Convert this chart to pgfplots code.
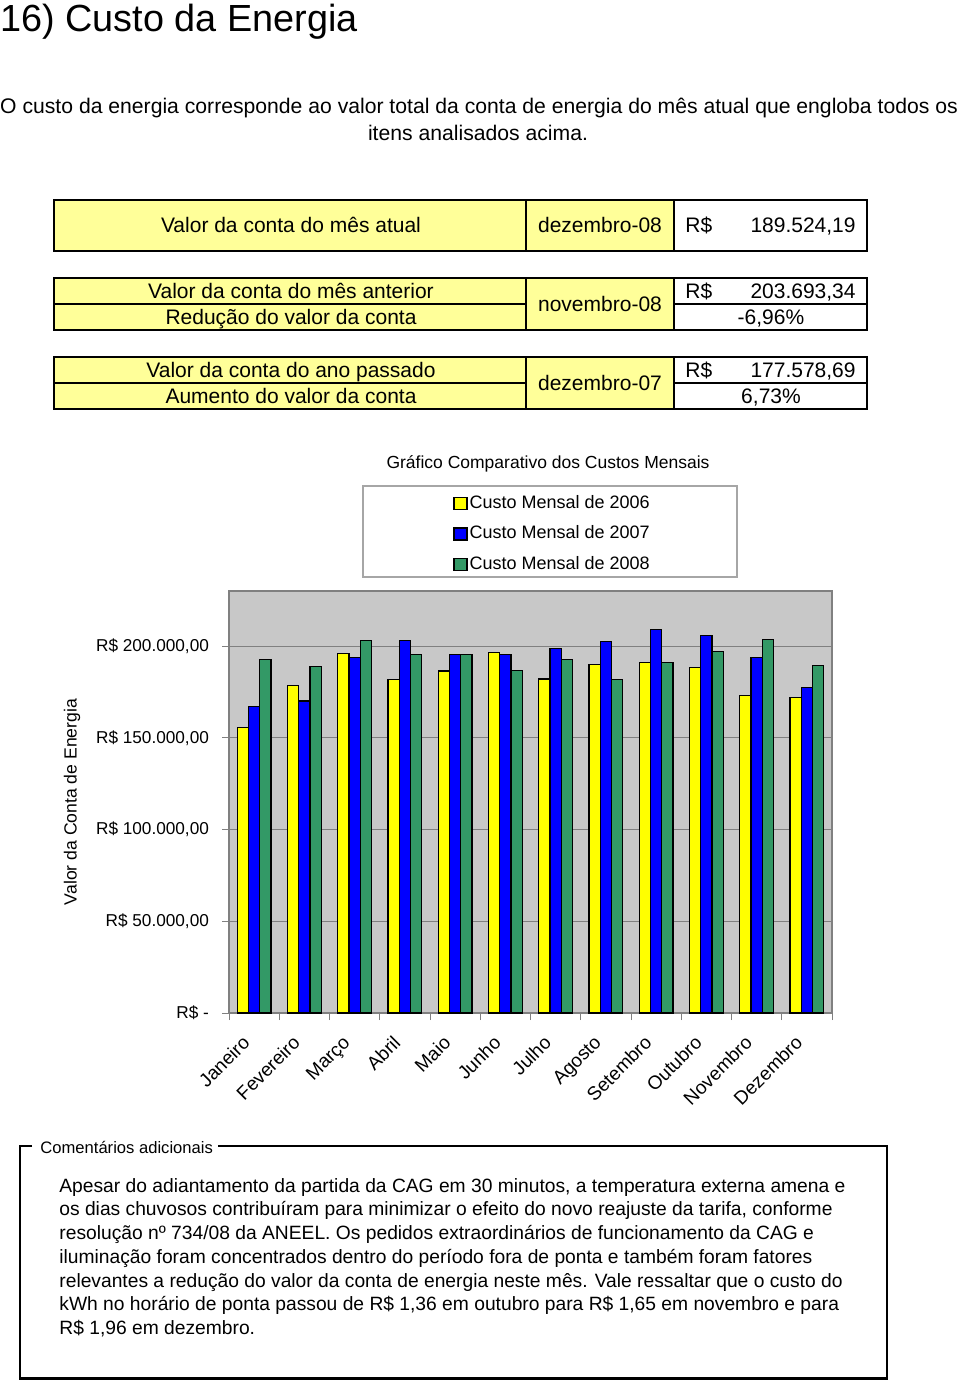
\documentclass[border=0pt]{standalone}
\usepackage{fontspec}
\setmainfont{Liberation Sans}
\usepackage{pgfplots}
\usepackage{pgfplotstable}
\pgfplotsset{compat=1.18}
\definecolor{tyellow}{HTML}{FFFF99}
\definecolor{byellow}{HTML}{FFFF00}
\definecolor{bblue}{HTML}{0000FF}
\definecolor{bgreen}{HTML}{339966}
\definecolor{plotbg}{HTML}{C8C8C8}
\definecolor{axgray}{HTML}{808080}
\newcommand{\fs}[1]{\fontsize{#1}{#1}\selectfont}

\pgfplotstableread{
x y06 y07 y08
1 155700 166900 192700
2 178600 170000 188700
3 196150 193800 202850
4 181800 203200 195250
5 186350 195250 195250
6 196700 195450 186700
7 182000 198500 192700
8 190000 202700 181800
9 190900 209200 191250
10 188500 205950 196850
11 173100 193600 203693.34
12 171800 177578.69 189524.19
}\datatable

\begin{document}
\begin{tikzpicture}
\begin{axis}[
  at={(114.5pt,-506.5pt)}, anchor=south west,
  scale only axis, width=301.5pt, height=211pt,
  xmin=0.5, xmax=12.5, ymin=0, ymax=230000,
  enlargelimits=false,
  scaled y ticks=false,
  ybar=0pt, bar width=5.65pt,
  axis background/.style={fill=plotbg},
  axis line style={draw=axgray, line width=0.8pt},
  ytick={0,50000,100000,150000,200000},
  yticklabels={{R\$ -\hspace{9pt}},{R\$ 50.000,00},{R\$ 100.000,00},{R\$ 150.000,00},{R\$ 200.000,00}},
  yticklabel style={font=\fs{8.6pt}, xshift=-3pt},
  ymajorgrids, grid style={draw=axgray, line width=0.5pt},
  tick align=outside, major tick length=3.5pt,
  tick pos=left,
  ytick style={draw=axgray, line width=0.5pt},
  xtick={1,...,12},
  xticklabels={Janeiro,Fevereiro,Março,Abril,Maio,Junho,Julho,Agosto,Setembro,Outubro,Novembro,Dezembro},
  xtick style={draw=none},
  xticklabel style={font=\fs{9.5pt}, xshift=-6.5pt, yshift=-7pt, rotate=45, anchor=north east, inner sep=0pt},
  extra x ticks={0.5,1.5,...,12.5},
  extra x tick labels={},
  extra x tick style={grid=none, tick pos=left, xtick style={draw=axgray, line width=0.5pt}},
  legend style={draw=none, fill=none, at={(0.3715,1.233)}, anchor=north west,
    font=\fs{9pt}, row sep=4.85pt, inner sep=0pt,
    nodes={inner sep=1pt, text height=6.5pt, text depth=1.9pt}},
  legend cell align=left,
  legend image code/.code={\draw[#1, draw=black, line width=0.6pt] (0pt,-3pt) rectangle (6.5pt,3pt);},
]
\addplot[fill=byellow, draw=black, line width=0.6pt] table[x=x,y=y06]{\datatable};
\addplot[fill=bblue, draw=black, line width=0.6pt] table[x=x,y=y07]{\datatable};
\addplot[fill=bgreen, draw=black, line width=0.6pt] table[x=x,y=y08]{\datatable};
\legend{Custo Mensal de 2006,Custo Mensal de 2007,Custo Mensal de 2008}
\end{axis}

\begin{scope}[x=0.5pt, y=-0.5pt]
% title and intro
\node[anchor=base west, inner sep=0pt, font=\fs{18.9pt}] at (0,32) {16) Custo da Energia};
\node[anchor=base, inner sep=0pt, font=\fs{10.58pt}] at (479,113) {O custo da energia corresponde ao valor total da conta de energia do mês atual que engloba todos os};
\node[anchor=base, inner sep=0pt, font=\fs{10.58pt}] at (478,140) {itens analisados acima.};

% table 1
\fill[tyellow] (54,200) rectangle (674,251);
\fill[white] (674,200) rectangle (867,251);
\draw[line width=0.8pt] (526,200)--(526,251) (674,200)--(674,251);
\draw[line width=1.3pt] (54,200) rectangle (867,251);
\begin{scope}[every node/.style={inner sep=0pt, font=\fs{10.5pt}}]
\node[anchor=base] at (291,232) {Valor da conta do mês atual};
\node[anchor=base] at (600,232) {dezembro-08};
\node[anchor=base west] at (685,232) {R\$};
\node[anchor=base east] at (856,232) {189.524,19};
\end{scope}

% table 2
\fill[tyellow] (54,278) rectangle (674,330);
\fill[white] (674,278) rectangle (867,330);
\draw[line width=0.8pt] (526,278)--(526,330) (674,278)--(674,330) (54,304)--(526,304) (674,304)--(867,304);
\draw[line width=1.3pt] (54,278) rectangle (867,330);
\begin{scope}[every node/.style={inner sep=0pt, font=\fs{10.5pt}}]
\node[anchor=base] at (291,298.5) {Valor da conta do mês anterior};
\node[anchor=base] at (291,324.5) {Redução do valor da conta};
\node[anchor=base] at (600,311.5) {novembro-08};
\node[anchor=base west] at (685,298.5) {R\$};
\node[anchor=base east] at (856,298.5) {203.693,34};
\node[anchor=base] at (771,324.5) {-6,96\%};
\end{scope}

% table 3
\fill[tyellow] (54,357) rectangle (674,409);
\fill[white] (674,357) rectangle (867,409);
\draw[line width=0.8pt] (526,357)--(526,409) (674,357)--(674,409) (54,383)--(526,383) (674,383)--(867,383);
\draw[line width=1.3pt] (54,357) rectangle (867,409);
\begin{scope}[every node/.style={inner sep=0pt, font=\fs{10.5pt}}]
\node[anchor=base] at (291,377.5) {Valor da conta do ano passado};
\node[anchor=base] at (291,403.5) {Aumento do valor da conta};
\node[anchor=base] at (600,390.5) {dezembro-07};
\node[anchor=base west] at (685,377.5) {R\$};
\node[anchor=base east] at (856,377.5) {177.578,69};
\node[anchor=base] at (771,403.5) {6,73\%};
\end{scope}

% chart title, legend box, y label
\node[anchor=base, inner sep=0pt, font=\fs{8.75pt}] at (548,468) {Gráfico Comparativo dos Custos Mensais};
\draw[draw=gray!70, line width=0.6pt] (363,486) rectangle (737,577);
\node[rotate=90, inner sep=0pt, font=\fs{8.8pt}] at (72,802) {Valor da Conta de Energia};

% comments box
\draw[line width=1.1pt] (32,1146) -- (20,1146) -- (20,1378.5) -- (887,1378.5) -- (887,1146) -- (218,1146);
\node[anchor=base west, inner sep=0pt, font=\fs{8.3pt}] at (40,1153) {Comentários adicionais};
\begin{scope}[every node/.style={anchor=base west, inner sep=0pt, font=\fs{9.62pt}}]
\node at (59,1192) {Apesar do adiantamento da partida da CAG em 30 minutos, a temperatura externa amena e};
\node at (59,1215.5) {os dias chuvosos contribuíram para minimizar o efeito do novo reajuste da tarifa, conforme};
\node at (59,1239) {resolução nº 734/08 da ANEEL. Os pedidos extraordinários de funcionamento da CAG e};
\node at (59,1263) {iluminação foram concentrados dentro do período fora de ponta e também foram fatores};
\node at (59,1287) {relevantes a redução do valor da conta de energia neste mês. Vale ressaltar que o custo do};
\node at (59,1310.5) {kWh no horário de ponta passou de R\$ 1,36 em outubro para R\$ 1,65 em novembro e para};
\node at (59,1334) {R\$ 1,96 em dezembro.};
\end{scope}

\pgfresetboundingbox
\path[use as bounding box] (0,0) rectangle (960,1381);
\end{scope}
\end{tikzpicture}
\end{document}
